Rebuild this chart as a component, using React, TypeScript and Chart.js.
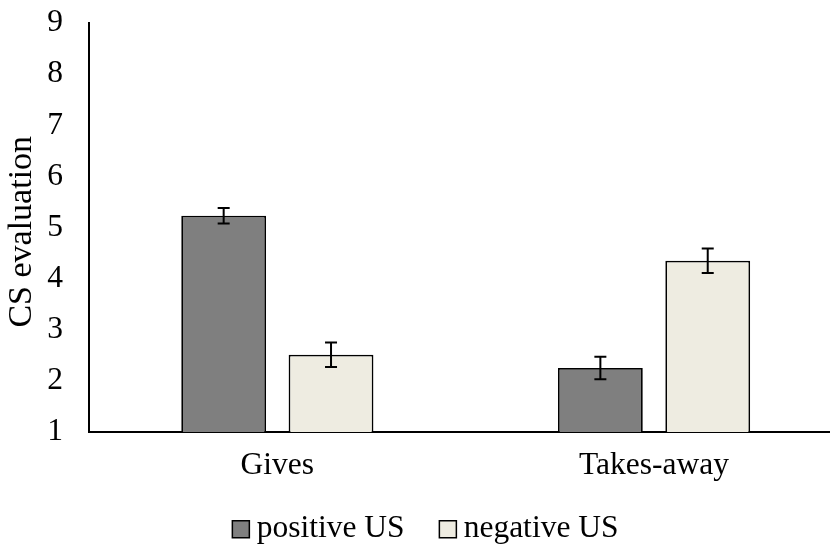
import React, { useEffect, useRef } from "react";
import { Chart, registerables } from "chart.js";

Chart.register(...registerables);

const categories = ["Gives", "Takes-away"];
const seriesNames = ["positive US", "negative US"];
const positiveUS = [5.23, 2.25];
const negativeUS = [2.51, 4.35];
const positiveErr = [0.15, 0.22];
const negativeErr = [0.24, 0.24];
const yTicks = [1, 2, 3, 4, 5, 6, 7, 8, 9];
const yTitle = "CS evaluation";
const seriesColors = ["#7f7f7f", "#eeece1"];

const FONT = "'Times New Roman', 'Liberation Serif', serif";
const LEGEND_FONT = 31.5;
const LEGEND_BOX = 17;
const LEGEND_GAP = 7.3;

const errorBars = {
  id: "errorBars",
  afterDatasetsDraw(chart: any) {
    const ctx = chart.ctx;
    const y = chart.scales.y;
    ctx.save();
    ctx.strokeStyle = "#000";
    ctx.lineWidth = 2;
    chart.data.datasets.forEach((ds: any, di: number) => {
      const meta = chart.getDatasetMeta(di);
      meta.data.forEach((bar: any, i: number) => {
        const v = ds.data[i];
        const e = ds.errors[i];
        const x = bar.x;
        const top = y.getPixelForValue(v + e);
        const bot = y.getPixelForValue(v - e);
        ctx.beginPath();
        ctx.moveTo(x, top);
        ctx.lineTo(x, bot);
        ctx.moveTo(x - 6, top);
        ctx.lineTo(x + 6, top);
        ctx.moveTo(x - 6, bot);
        ctx.lineTo(x + 6, bot);
        ctx.stroke();
      });
    });
    ctx.restore();
  },
};

// draws the legend swatches closer to their text than Chart.js does by default
const legendBoxes = {
  id: "legendBoxes",
  afterDraw(chart: any) {
    const legend = chart.legend;
    if (!legend || !legend.legendHitBoxes) return;
    const ctx = chart.ctx;
    ctx.save();
    legend.legendHitBoxes.forEach((hb: any, i: number) => {
      const textX = hb.left + 1 + LEGEND_FONT / 2;
      const bx = textX - LEGEND_GAP - LEGEND_BOX;
      const cy = hb.top + LEGEND_FONT / 2;
      const by = cy - LEGEND_BOX / 2 + 1;
      ctx.fillStyle = seriesColors[i];
      ctx.fillRect(bx, by, LEGEND_BOX, LEGEND_BOX);
      ctx.strokeStyle = "#000";
      ctx.lineWidth = 1.5;
      ctx.strokeRect(bx, by, LEGEND_BOX, LEGEND_BOX);
    });
    ctx.restore();
  },
};

export default function App() {
  const ref = useRef<HTMLCanvasElement>(null);
  useEffect(() => {
    if (!ref.current) return;
    const chart = new Chart(ref.current, {
      type: "bar",
      data: {
        labels: categories,
        datasets: [
          {
            label: seriesNames[0],
            data: positiveUS,
            errors: positiveErr,
            backgroundColor: seriesColors[0],
            borderColor: "#000",
            borderWidth: 1.75,
            borderSkipped: false,
          } as any,
          {
            label: seriesNames[1],
            data: negativeUS,
            errors: negativeErr,
            backgroundColor: seriesColors[1],
            borderColor: "#000",
            borderWidth: 1.75,
            borderSkipped: false,
          } as any,
        ],
      },
      options: {
        animation: false,
        responsive: true,
        maintainAspectRatio: false,
        layout: { padding: { top: 23, bottom: 0, left: 16, right: 2.6 } },
        datasets: {
          bar: { categoryPercentage: 0.57, barPercentage: 0.79 },
        },
        scales: {
          x: {
            grid: { display: false, drawTicks: false },
            border: { display: true, color: "#000", width: 2 },
            ticks: { color: "#000", font: { family: FONT, size: 31.5 }, padding: 15 },
            afterFit(scale: any) {
              scale.height = 77.5;
              scale.paddingLeft = 0;
              scale.paddingRight = 0;
            },
          },
          y: {
            min: 1,
            max: 9,
            grid: { display: false, drawTicks: false },
            border: { display: true, color: "#000", width: 2 },
            afterBuildTicks(scale: any) {
              scale.ticks = yTicks.map((v) => ({ value: v }));
            },
            ticks: { color: "#000", font: { family: FONT, size: 31.5 }, padding: 26 },
            title: {
              display: true,
              text: yTitle + " ",
              color: "#000",
              font: { family: FONT, size: 34, lineHeight: 0.25 },
              padding: { top: 2.3, bottom: 0 },
            },
            afterFit(scale: any) {
              scale.width = 73;
              scale.paddingTop = 0;
              scale.paddingBottom = 0;
            },
          },
        },
        plugins: {
          legend: {
            position: "bottom",
            labels: {
              color: "#000",
              font: { family: FONT, size: LEGEND_FONT },
              boxWidth: 1,
              boxHeight: 1,
              padding: 3,
              generateLabels(chart: any) {
                const items = Chart.defaults.plugins.legend.labels.generateLabels(chart);
                items.forEach((it: any, i: number) => {
                  if (i < items.length - 1) it.text = it.text + "     ";
                  it.fillStyle = "rgba(0,0,0,0)";
                  it.strokeStyle = "rgba(0,0,0,0)";
                  it.lineWidth = 0;
                });
                return items;
              },
            },
          },
          tooltip: { enabled: false },
        },
      } as any,
      plugins: [errorBars, legendBoxes],
    });
    return () => chart.destroy();
  }, []);
  return (
    <div style={{ position: "absolute", left: 0, top: 0, width: 830, height: 544, overflow: "hidden", background: "#fff" }}>
      <div style={{ position: "relative", width: 845, height: 554 }}>
        <canvas ref={ref} />
      </div>
    </div>
  );
}
